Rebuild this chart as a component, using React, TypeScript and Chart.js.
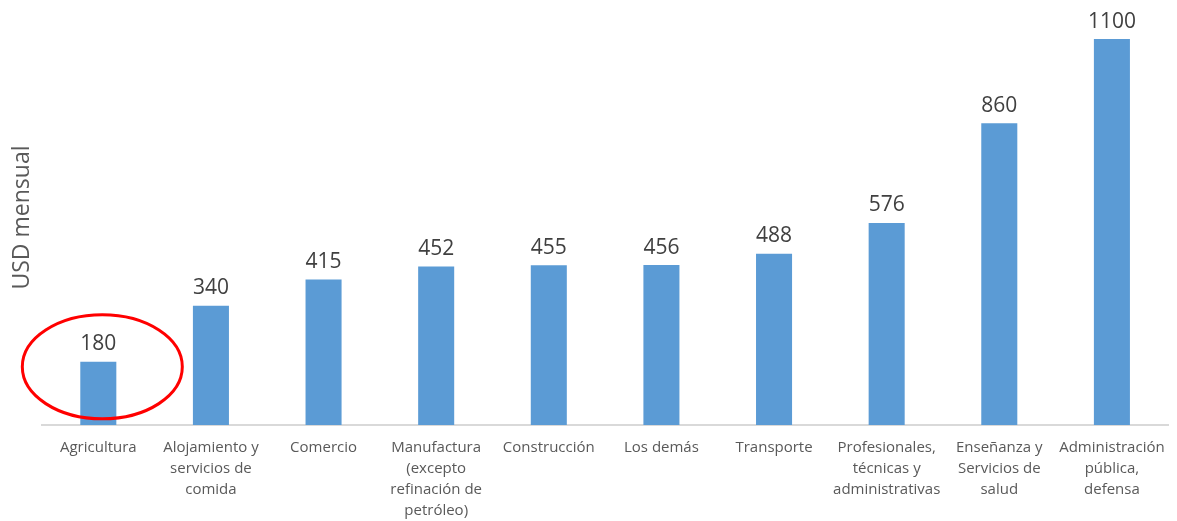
import React, { useEffect, useRef } from "react";
import { Chart, registerables } from "chart.js";

Chart.register(...registerables);

const categories: string[][] = [
  ["Agricultura"],
  ["Alojamiento y", "servicios de", "comida"],
  ["Comercio"],
  ["Manufactura", "(excepto", "refinación de", "petróleo)"],
  ["Construcción"],
  ["Los demás"],
  ["Transporte"],
  ["Profesionales,", "técnicas y", "administrativas"],
  ["Enseñanza y", "Servicios de", "salud"],
  ["Administración", "pública,", "defensa"],
];
const values: number[] = [180, 340, 415, 452, 455, 456, 488, 576, 860, 1100];
const yTitle = "USD mensual";

const overlayPlugin = {
  id: "overlay",
  afterDatasetsDraw(chart: any) {
    const { ctx, chartArea } = chart;
    const meta = chart.getDatasetMeta(0);
    ctx.save();
    // value labels
    ctx.font = '21px "Open Sans", sans-serif';
    ctx.fillStyle = "#404040";
    ctx.textAlign = "center";
    ctx.textBaseline = "bottom";
    meta.data.forEach((bar: any, i: number) => {
      ctx.fillText(String(values[i]), bar.x, bar.y - 7);
    });
    // y title
    ctx.translate(chartArea.left - 20, (chartArea.top + chartArea.bottom) / 2 + 3);
    ctx.rotate(-Math.PI / 2);
    ctx.font = '23px "Open Sans", sans-serif';
    ctx.fillStyle = "#595959";
    ctx.textBaseline = "middle";
    ctx.fillText(yTitle, 0, 0);
    ctx.restore();
    // red ellipse around first bar
    const b0: any = meta.data[0];
    ctx.save();
    ctx.beginPath();
    ctx.ellipse(b0.x + 4, b0.y + 5, 80, 52, 0, 0, Math.PI * 2);
    ctx.strokeStyle = "#ff0000";
    ctx.lineWidth = 3;
    ctx.stroke();
    ctx.restore();
  },
};

export default function App() {
  const ref = useRef<HTMLCanvasElement>(null);
  useEffect(() => {
    if (!ref.current) return;
    const chart = new Chart(ref.current, {
      type: "bar",
      data: {
        labels: categories,
        datasets: [
          {
            data: values,
            backgroundColor: "#5b9bd5",
            barPercentage: 0.32,
            categoryPercentage: 1,
          },
        ],
      },
      options: {
        animation: false,
        responsive: false,
        maintainAspectRatio: false,
        layout: { padding: { left: 42, right: 7, top: 4, bottom: -12 } },
        plugins: { legend: { display: false }, tooltip: { enabled: false } },
        scales: {
          x: {
            grid: { display: false, drawTicks: false },
            border: { display: true, color: "#d9d9d9", width: 2 },
            ticks: {
              padding: 12,
              maxRotation: 0,
              autoSkip: false,
              color: "#595959",
              font: { family: '"Open Sans", sans-serif', size: 15, lineHeight: 1.4 },
            },
          },
          y: {
            display: false,
            min: 0,
            max: 1200,
          },
        },
      },
      plugins: [overlayPlugin],
    });
    return () => chart.destroy();
  }, []);
  return (
    <div style={{ position: "absolute", left: 0, top: 0, width: 1177, height: 521, background: "#fff" }}>
      <canvas ref={ref} width={1177} height={521} style={{ width: 1177, height: 521 }} />
    </div>
  );
}
